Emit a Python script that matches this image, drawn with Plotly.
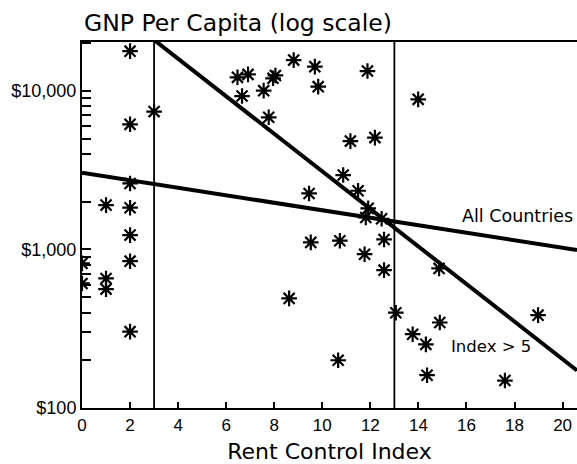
import numpy as np
import plotly.graph_objects as go

# ---- data ----
rent_index = [0, 0,
              1, 1, 1,
              2, 2, 2, 2, 2, 2, 2,
              3.0,
              6.47, 6.91, 6.66, 7.56, 7.95, 8.05, 7.77, 8.81, 9.69, 9.83, 9.45,
              11.88, 13.99, 11.17, 12.19, 10.87, 11.49, 11.91, 11.81, 12.47,
              10.73, 11.76, 12.57, 12.57, 13.06, 13.76, 14.31, 14.36, 10.66, 14.86, 14.89,
              9.52, 8.62,
              18.98, 17.60]
gnp_per_capita = [817, 610,
                  656, 562, 1903,
                  17800, 6150, 2606, 1833, 1231, 843, 303,
                  7400,
                  12170, 12700, 9270, 10030, 12000, 12500, 6810, 15630, 14210, 10630, 2254,
                  13330, 8840, 4820, 5070, 2945, 2344, 1815, 1590, 1560,
                  1135, 933, 1156, 740, 399, 292, 252, 161, 200, 759, 346,
                  1107, 491,
                  385, 149]

# fitted lines in log10 space: log10(GNP) = intercept + slope * index
fit_names = ["All Countries", "Index > 5"]
fit_intercepts = [3.483, 4.676]
fit_slopes = [-0.0236, -0.1184]
fit_label_x = [15.72, 15.27]
fit_label_y = [1615, 245]
fit_label_size = [17.5, 16.5]

cutoffs = [3, 13]

x_range = [0, 20.6]
x_tickvals = [0, 2, 4, 6, 8, 10, 12, 14, 16, 18, 20]
y_tickvals = [100, 200, 300, 400, 500, 600, 700, 800, 900,
              1000, 2000, 3000, 4000, 5000, 6000, 7000, 8000, 9000,
              10000, 20000]
y_ticktext = ["$100", "", "", "", "", "", "", "", "",
              "$1,000", "", "", "", "", "", "", "", "",
              "$10,000", ""]

title_text = "GNP Per Capita (log scale)"
x_title = "Rent Control Index"

# ---- figure ----
fig = go.Figure()

xs = np.array(x_range)
for name, a, b in zip(fit_names, fit_intercepts, fit_slopes):
    fig.add_trace(go.Scatter(
        x=xs, y=10 ** (a + b * xs), mode="lines",
        line=dict(color="black", width=4), name=name, hoverinfo="skip"))

fig.add_trace(go.Scatter(
    x=rent_index, y=gnp_per_capita, mode="markers",
    marker=dict(symbol="asterisk-open", size=13, color="black",
                line=dict(width=2.2, color="black")),
    name="Countries"))

for c in cutoffs:
    fig.add_shape(type="line", xref="x", yref="paper", x0=c, x1=c, y0=0, y1=1,
                  line=dict(color="black", width=1.8))

for name, lx, ly, fs in zip(fit_names, fit_label_x, fit_label_y, fit_label_size):
    fig.add_annotation(x=lx, y=np.log10(ly), xref="x", yref="y", text=name,
                       showarrow=False, xanchor="left", yanchor="middle",
                       font=dict(family="DejaVu Sans", size=fs, color="black"))

fig.add_annotation(xref="paper", yref="paper", x=0, y=1, xanchor="left",
                   yanchor="bottom", yshift=3, text=title_text, showarrow=False,
                   font=dict(family="DejaVu Sans", size=23.5, color="black"))

fig.update_layout(
    width=577, height=464,
    margin=dict(l=82, r=0, t=42, b=56),
    paper_bgcolor="white", plot_bgcolor="white",
    showlegend=False,
    font=dict(family="Liberation Sans", color="black"),
)
fig.update_xaxes(
    range=x_range, tickvals=x_tickvals, ticks="inside", ticklen=6, tickwidth=2,
    tickcolor="black", showline=True, linecolor="black", linewidth=2.2,
    mirror=True, showgrid=False, zeroline=False,
    tickfont=dict(family="Liberation Sans", size=17, color="black"),
    title=dict(text=x_title, font=dict(family="DejaVu Sans", size=22, color="black"),
               standoff=13),
)
fig.update_yaxes(
    type="log", range=[2, 4.308], tickvals=y_tickvals, ticktext=y_ticktext,
    ticks="inside", ticklen=9, tickwidth=2, tickcolor="black",
    showline=True, linecolor="black", linewidth=2, mirror=False,
    showgrid=False, zeroline=False,
    tickfont=dict(family="Liberation Sans", size=18, color="black"),
)

fig.write_html("out.html")
